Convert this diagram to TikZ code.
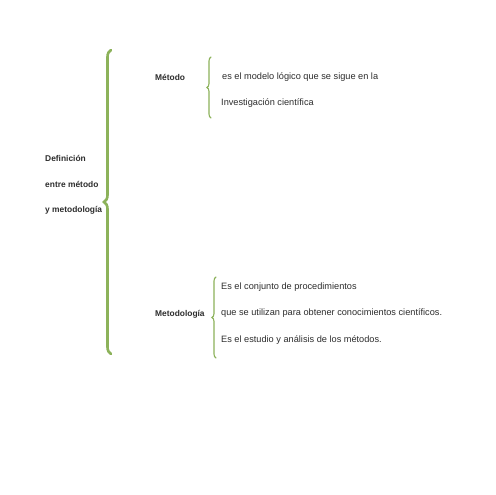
\documentclass[tikz,border=0pt]{standalone}
\usepackage{fontspec}
\setmainfont{Liberation Sans}
\usetikzlibrary{decorations.pathreplacing}
\definecolor{bracegreen}{RGB}{140,178,90}
\definecolor{txt}{RGB}{45,45,45}
\tikzset{
  body/.style={anchor=west, inner sep=0pt, text=txt, font=\fontsize{9.2}{10}\selectfont},
  head/.style={anchor=west, inner sep=0pt, text=txt, font=\fontsize{8.4}{9}\selectfont\bfseries},
  bigbrace/.style={draw=bracegreen, line width=2.6pt, line cap=round, decorate, decoration={brace, amplitude=7pt}},
  smallbrace/.style={draw=bracegreen, line width=1.1pt, line cap=round, decorate, decoration={brace, amplitude=4pt}}
}
\begin{document}
\begin{tikzpicture}[x=1pt,y=1pt]
\useasboundingbox (0,0) rectangle (495,495);
\fill[white] (0,0) rectangle (495,495);
% main title
\node[head] (t1) at (45,{495-158}) {Definición};
\node[head] (t2) at (45,{495-184}) {entre método};
\node[head] (t3) at (45,{495-210}) {y metodología};
% big brace
\coordinate (bb) at (111,{495-354});
\coordinate (bt) at (111,{495-50});
\draw[bigbrace] (bb) -- (bt);
% Metodo
\node[head] (m) at (155,{495-77}) {Método};
\coordinate (mb) at (211,{495-118});
\coordinate (mt) at (211,{495-57});
\draw[smallbrace] (mb) -- (mt);
\node[body] (m1) at (222,{495-77}) {es el modelo lógico que se sigue en la};
\node[body] (m2) at (221,{495-103}) {Investigación científica};
% Metodologia
\node[head] (g) at (155,{495-314}) {Metodología};
\coordinate (gb) at (216,{495-358});
\coordinate (gt) at (216,{495-277});
\draw[smallbrace] (gb) -- (gt);
\node[body] (g1) at (221,{495-287}) {Es el conjunto de procedimientos};
\node[body] (g2) at (221,{495-313}) {que se utilizan para obtener conocimientos científicos.};
\node[body] (g3) at (221,{495-340}) {Es el estudio y análisis de los métodos.};
\end{tikzpicture}
\end{document}
